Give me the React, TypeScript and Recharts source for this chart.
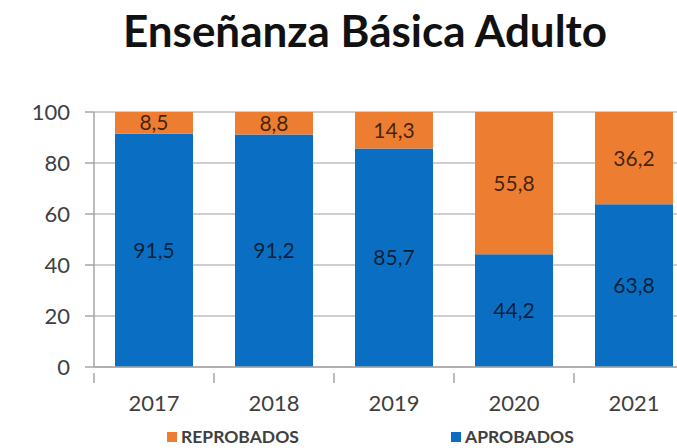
import React from 'react';
import { BarChart, Bar, XAxis, YAxis, CartesianGrid, LabelList, Legend } from 'recharts';

const years = ['2017', '2018', '2019', '2020', '2021'];
const aprobados = [91.5, 91.2, 85.7, 44.2, 63.8];
const reprobados = [8.5, 8.8, 14.3, 55.8, 36.2];
const yTicks = [0, 20, 40, 60, 80, 100];

const data = years.map((y, i) => ({ year: y, aprobados: aprobados[i], reprobados: reprobados[i] }));

const BLUE = '#0A6FC2';
const ORANGE = '#ED7D31';
const FONT = 'Lato, "DejaVu Sans", sans-serif';

const fmt = (v: any) => Number(v).toFixed(1).replace('.', ',');

const XTick = (props: any) => {
  const { x, y, payload } = props;
  const off = payload && payload.offset ? payload.offset : 60;
  const bx = x + off;
  return (
    <g>
      <line x1={bx} y1={y - 2} x2={bx} y2={y + 8} stroke="#a6a6a6" strokeWidth={1.5} />
      {props.index === 0 && (
        <line x1={x - off} y1={y - 2} x2={x - off} y2={y + 8} stroke="#a6a6a6" strokeWidth={1.5} />
      )}
      <text x={x} y={y + 36} textAnchor="middle" fill="#404040" fontSize={22} fontFamily={FONT}>
        {payload.value}
      </text>
    </g>
  );
};

const LegendContent = () => (
  <div style={{ position: 'relative', width: 677, height: 20, fontFamily: FONT }}>
    <div style={{ position: 'absolute', left: 167, top: 5, width: 10, height: 10, background: ORANGE }} />
    <div style={{ position: 'absolute', left: 181, top: 0, fontSize: 17.5, fontWeight: 700, color: '#404040', lineHeight: '20px' }}>REPROBADOS</div>
    <div style={{ position: 'absolute', left: 451, top: 5, width: 10, height: 10, background: BLUE }} />
    <div style={{ position: 'absolute', left: 465, top: 0, fontSize: 17.5, fontWeight: 700, color: '#404040', lineHeight: '20px' }}>APROBADOS</div>
  </div>
);

export default function App() {
  return (
    <div style={{ position: 'fixed', top: 0, left: 0, width: 677, height: 448, overflow: 'hidden', background: '#fff' }}>
      <div style={{ position: 'absolute', top: 4, left: 0, width: 730, textAlign: 'center', fontFamily: FONT, fontWeight: 700, fontSize: 44, color: '#111', lineHeight: '52px' }}>
        Enseñanza Básica Adulto
      </div>
      <BarChart
        width={710}
        height={448}
        data={data}
        margin={{ top: 112, right: 16, bottom: 2, left: 0 }}
        barCategoryGap="17.5%"
      >
        <CartesianGrid vertical={false} stroke="#bfbfbf" strokeWidth={1.5} />
        <YAxis
          domain={[0, 100]}
          ticks={yTicks}
          width={94}
          axisLine={{ stroke: '#a6a6a6', strokeWidth: 1.5 }}
          tickLine={{ stroke: '#a6a6a6', strokeWidth: 1.5 }}
          tickSize={9}
          tickMargin={15}
          tick={{ fill: '#404040', fontSize: 22, fontFamily: FONT }}
          interval={0}
        />
        <XAxis
          dataKey="year"
          height={59}
          axisLine={{ stroke: '#a6a6a6', strokeWidth: 1.5 }}
          tickLine={false}
          tick={<XTick />}
          interval={0}
        />
        <Legend verticalAlign="bottom" content={<LegendContent />} wrapperStyle={{ left: 0, top: 427, width: 677, height: 20 }} />
        <Bar dataKey="aprobados" stackId="a" fill={BLUE} isAnimationActive={false} name="APROBADOS">
          <LabelList dataKey="aprobados" position="center" formatter={fmt} fill="#000" fillOpacity={0.72} fontSize={21} fontFamily={FONT} />
        </Bar>
        <Bar dataKey="reprobados" stackId="a" fill={ORANGE} isAnimationActive={false} name="REPROBADOS">
          <LabelList dataKey="reprobados" position="center" formatter={fmt} fill="#000" fillOpacity={0.72} fontSize={21} fontFamily={FONT} />
        </Bar>
      </BarChart>
    </div>
  );
}
